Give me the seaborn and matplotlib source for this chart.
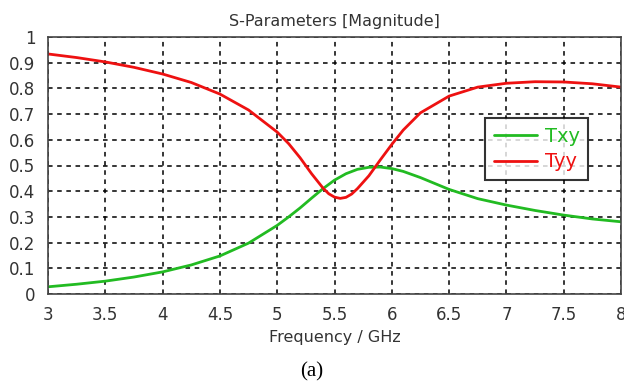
import numpy as np
import pandas as pd
import seaborn as sns
import matplotlib.pyplot as plt
from matplotlib.lines import Line2D

# S-parameter magnitudes
freq_txy = [3.0, 3.25, 3.5, 3.75, 4.0, 4.25, 4.5, 4.75, 5.0, 5.1, 5.2, 5.3, 5.4, 5.5,
            5.6, 5.7, 5.8, 5.9, 6.0, 6.1, 6.25, 6.5, 6.75, 7.0, 7.25, 7.5, 7.75, 8.0]
txy = [0.028, 0.038, 0.050, 0.066, 0.086, 0.113, 0.148, 0.198, 0.267, 0.300, 0.335, 0.373,
       0.410, 0.443, 0.468, 0.485, 0.493, 0.494, 0.488, 0.477, 0.453, 0.407, 0.371, 0.346,
       0.325, 0.307, 0.292, 0.281]

freq_tyy = [3.0, 3.25, 3.5, 3.75, 4.0, 4.25, 4.5, 4.75, 5.0, 5.1, 5.2, 5.3, 5.4, 5.45,
            5.5, 5.55, 5.6, 5.65, 5.7, 5.8, 5.9, 6.0, 6.1, 6.25, 6.5, 6.75, 7.0, 7.25,
            7.5, 7.75, 8.0]
tyy = [0.934, 0.920, 0.903, 0.882, 0.856, 0.823, 0.778, 0.716, 0.630, 0.585, 0.530, 0.468,
       0.412, 0.390, 0.377, 0.372, 0.376, 0.389, 0.410, 0.460, 0.522, 0.582, 0.638, 0.705,
       0.770, 0.805, 0.820, 0.826, 0.825, 0.818, 0.805]

df = pd.concat([
    pd.DataFrame({"freq": freq_txy, "mag": txy, "param": "Txy"}),
    pd.DataFrame({"freq": freq_tyy, "mag": tyy, "param": "Tyy"}),
])

sns.set_style("white")
plt.rcParams['font.family'] = ['DejaVu Sans']
text_col = "#333333"
colors = {"Txy": "#22bb22", "Tyy": "#ee1111"}

fig = plt.figure(figsize=(6.24, 3.88), dpi=100)
ax = fig.add_axes([48 / 624, 1 - 294 / 388, 573 / 624, 257 / 388])

sns.lineplot(data=df, x="freq", y="mag", hue="param", palette=colors,
             linewidth=2, ax=ax, legend=False, sort=False)

ax.set_xlim(3, 8)
ax.set_ylim(0, 1)
ax.set_xticks(np.arange(3, 8.01, 0.5))
ax.set_xticklabels(["3", "3.5", "4", "4.5", "5", "5.5", "6", "6.5", "7", "7.5", "8"])
ax.set_yticks(np.arange(0, 1.01, 0.1))
ax.set_yticklabels(["0", "0.1", "0.2", "0.3", "0.4", "0.5", "0.6", "0.7", "0.8", "0.9", "1"])
ax.grid(True, color="black", linestyle=(0, (3, 3)), linewidth=1.1)
for s in ax.spines.values():
    s.set_color("#444444")
    s.set_linewidth(1.2)
ax.tick_params(direction="inout", length=6, width=1.2, colors="#444444",
               labelcolor=text_col, labelsize=12, pad=6)
ax.set_xlabel("Frequency / GHz", fontsize=11.5, color=text_col, labelpad=4)
ax.set_ylabel("")
ax.set_title("S-Parameters [Magnitude]", fontsize=11.5, color=text_col, pad=8)

handles = [Line2D([], [], color=colors["Txy"], lw=2), Line2D([], [], color=colors["Tyy"], lw=2)]
leg = ax.legend(handles, ["Txy", "Tyy"], loc="center left", bbox_to_anchor=(0.763, 0.564),
                borderaxespad=0, fontsize=14, frameon=True, fancybox=False, handlelength=2.2,
                borderpad=0.45, labelspacing=0.35, handletextpad=0.4)
leg.get_frame().set_edgecolor("black")
leg.get_frame().set_linewidth(1.5)
for t, c in zip(leg.get_texts(), [colors["Txy"], colors["Tyy"]]):
    t.set_color(c)

fig.text(0.5, 1 - 372 / 388, "(a)", ha="center", va="center",
         fontsize=15, family="Liberation Serif", color="black")

fig.savefig("out.png", dpi=100)
